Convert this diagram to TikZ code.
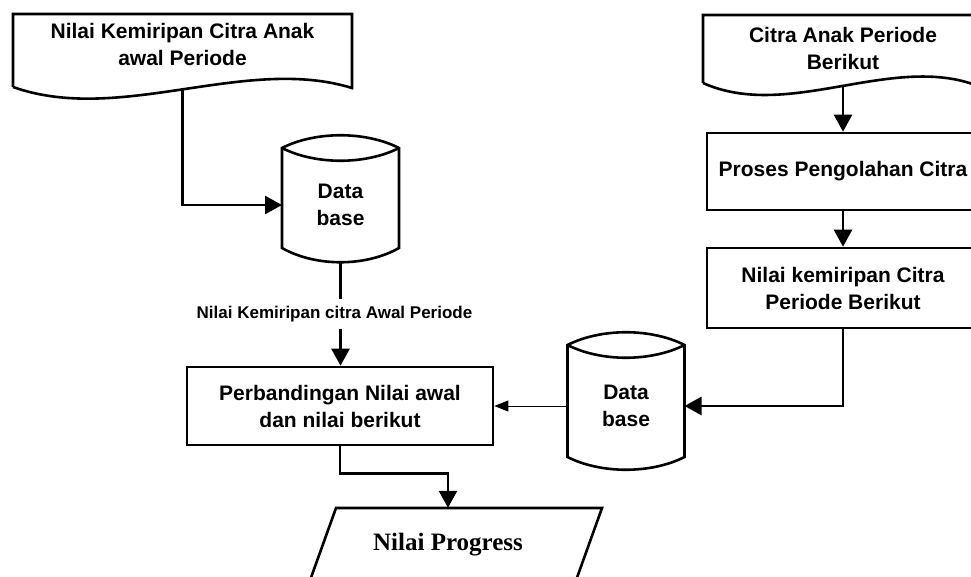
\documentclass[tikz,border=0pt]{standalone}
\usepackage{fontspec}
\setmainfont{Liberation Sans}
\newfontfamily\serifbold{Liberation Serif}
\usetikzlibrary{arrows.meta,calc}

\tikzset{
  outline/.style={draw=black, line width=2.6pt, line join=miter},
  txt/.style={align=center, inner sep=0pt, font=\bfseries\fontsize{21}{27}\selectfont},
  procbox/.style={txt, draw=black, line width=2.6pt},
  flow/.style={line width=2.6pt, -{Triangle[length=17pt,width=18pt]}},
  thinflow/.style={line width=0.9pt, -{Triangle[length=14pt,width=11pt]}},
  lbl/.style={fill=white, inner xsep=2pt, inner ysep=7pt, font=\bfseries\fontsize{17}{20}\selectfont}
}

\begin{document}
\begin{tikzpicture}[x=1pt, y=-1pt]
\useasboundingbox (0,0) rectangle (971,577);
\clip (0,0) rectangle (971,577);

% ---- input document: first period ----
\node[txt] (doc1) at (182.5,44) {Nilai Kemiripan Citra Anak\\awal Periode};
\begin{scope}[shift={(doc1)}]
  \draw[outline] (-169.5,43) -- (-169.5,-30) -- (169.5,-30) -- (169.5,44)
    .. controls (62.5,11) and (-62.5,81) .. (-169.5,43);
  \coordinate (doc1-out) at (0,45.5);
\end{scope}

% ---- input document: next period ----
\node[txt] (doc2) at (843,48) {Citra Anak Periode\\Berikut};
\begin{scope}[shift={(doc2)}]
  \draw[outline] (-140,35) -- (-140,-33) -- (140,-33) -- (140,40)
    .. controls (53,2) and (-53,74) .. (-140,35);
  \coordinate (doc2-out) at (0,38);
\end{scope}

% ---- database 1 ----
\node[txt] (db1) at (340.5,205) {Data\\base};
\begin{scope}[shift={(db1)}]
  \draw[outline] (-58.5,-57) .. controls (-25,-74) and (25,-74) .. (58.5,-57)
    -- (58.5,43) .. controls (25,62) and (-25,62) .. (-58.5,43) -- cycle;
  \draw[outline] (-58.5,-57) .. controls (-25,-40) and (25,-40) .. (58.5,-57);
  \coordinate (db1-w) at (-58.5,0);
  \coordinate (db1-s) at (0,57);
\end{scope}

% ---- database 2 ----
\node[txt] (db2) at (626,406) {Data\\base};
\begin{scope}[shift={(db2)}]
  \draw[outline] (-58.5,-61) .. controls (-25,-78) and (25,-78) .. (58.5,-61)
    -- (58.5,51) .. controls (25,68) and (-25,68) .. (-58.5,51) -- cycle;
  \draw[outline] (-58.5,-61) .. controls (-25,-44) and (25,-44) .. (58.5,-61);
  \coordinate (db2-w) at (-58.5,0);
  \coordinate (db2-e) at (58.5,0);
\end{scope}

% ---- process boxes ----
\node[procbox, minimum width=272pt, minimum height=77pt] (proc) at (843,171.5) {Proses Pengolahan Citra};
\node[procbox, minimum width=272pt, minimum height=80pt] (sim) at (843,288) {Nilai kemiripan Citra\\Periode Berikut};
\node[procbox, minimum width=306pt, minimum height=78pt] (cmp) at (340,406) {Perbandingan Nilai awal\\dan nilai berikut};

% ---- output ----
\node[font=\serifbold\bfseries\fontsize{25}{29}\selectfont, inner sep=0pt, minimum height=74pt] (prog) at (448,545) {Nilai Progress};
\begin{scope}[shift={(prog)}]
  \draw[outline] (-154,80) -- (-112,-37) -- (154,-37) -- (112,80);
\end{scope}

% ---- connectors ----
\draw[flow] (doc1-out) |- (db1-w);
\draw[flow] (db1-s) -- node[lbl, xshift=-6pt] {Nilai Kemiripan citra Awal Periode} (db1-s |- cmp.north);
\draw[flow] (doc2-out) -- (proc.north);
\draw[flow] (proc.south) -- (sim.north);
\draw[flow] (sim.south) |- (db2-e);
\draw[thinflow] (db2-w) -- (cmp.east);
\draw[flow] (cmp.south) -- ++(0,27) -| (prog.north);

\end{tikzpicture}
\end{document}
